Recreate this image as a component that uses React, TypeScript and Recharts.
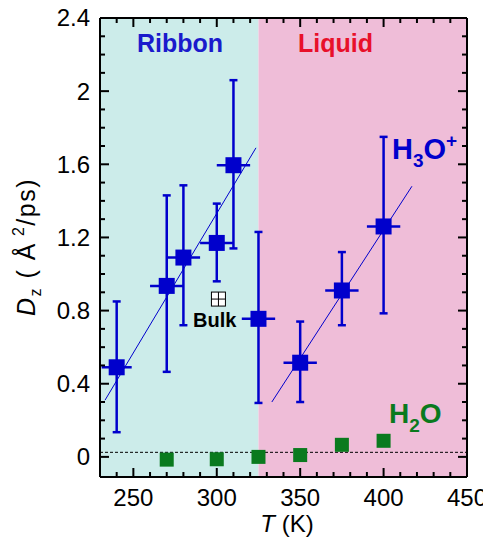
import { ScatterChart, Scatter, XAxis, YAxis, ErrorBar, ReferenceArea, ReferenceLine } from 'recharts'

// H3O+ diffusion (blue squares)
const ionT    = [240, 270, 280, 300, 310, 325, 350, 375, 400]
const ionD    = [0.49, 0.935, 1.09, 1.17, 1.595, 0.755, 0.515, 0.91, 1.26]
const ionLow  = [0.135, 0.465, 0.72, 0.96, 1.14, 0.295, 0.30, 0.72, 0.785]
const ionHigh = [0.85, 1.43, 1.485, 1.385, 2.06, 1.23, 0.74, 1.12, 1.75]
const ionTErr = [9, 10, 10, 10, 10, 10, 10, 10, 10]

// H2O diffusion (green squares)
const waterT = [270, 300, 325, 350, 375, 400]
const waterD = [-0.015, -0.013, 0, 0.01, 0.066, 0.088]

// bulk reference point
const bulkT = [301]
const bulkD = [0.863]

// linear fits
const ribbonFitT = [233, 323.5]
const ribbonFitD = [0.31, 1.69]
const liquidFitT = [333, 417]
const liquidFitD = [0.30, 1.48]

const ribbonRange = [230, 325]
const liquidRange = [325, 450]
const zeroLevel = 0.025

const xTicks  = [240, 250, 260, 270, 280, 290, 300, 310, 320, 330, 340, 350, 360, 370, 380, 390, 400, 410, 420, 430, 440, 450]
const xLabels = [250, 300, 350, 400, 450]
const yTicks  = [0, 0.1, 0.2, 0.3, 0.4, 0.5, 0.6, 0.7, 0.8, 0.9, 1, 1.1, 1.2, 1.3, 1.4, 1.5, 1.6, 1.7, 1.8, 1.9, 2, 2.1, 2.2, 2.3, 2.4]
const yLabels = [0, 0.4, 0.8, 1.2, 1.6, 2, 2.4]

const BLUE  = '#0000cc'
const GREEN = '#0a7a1e'
const RED   = '#e8102a'
const FONT  = '"Liberation Sans", Arial, sans-serif'

const ionData = ionT.map((t, i) => ({
  t, d: ionD[i], ex: ionTErr[i], ey: [ionD[i] - ionLow[i], ionHigh[i] - ionD[i]],
}))
const waterData = waterT.map((t, i) => ({ t, d: waterD[i] }))
const bulkData = bulkT.map((t, i) => ({ t, d: bulkD[i] }))
const ribbonFit = ribbonFitT.map((t, i) => ({ t, d: ribbonFitD[i] }))
const liquidFit = liquidFitT.map((t, i) => ({ t, d: liquidFitD[i] }))

const square = (size: number, color: string) => (p: any) => (
  <rect x={p.cx - size / 2} y={p.cy - size / 2} width={size} height={size} fill={color} />
)

const BulkMark = (p: any) => (
  <g stroke="#000" strokeWidth={1}>
    <rect x={p.cx - 7} y={p.cy - 7} width={14} height={14} fill="#fff" />
    <line x1={p.cx} x2={p.cx} y1={p.cy - 7} y2={p.cy + 7} />
    <line x1={p.cx - 7} x2={p.cx + 7} y1={p.cy} y2={p.cy} />
  </g>
)

const BottomTick = ({ x, y, payload }: any) => {
  const major = xLabels.includes(payload.value)
  return (
    <g>
      <line x1={x} x2={x} y1={y} y2={y - (major ? 9 : 5)} stroke="#000" strokeWidth={2} />
      {major && (
        <text x={x} y={y + 21} dy="0.35em" textAnchor="middle" fontSize={24} fontFamily={FONT} fill="#000">
          {payload.value}
        </text>
      )}
    </g>
  )
}

const TopTick = ({ x, y, payload }: any) => {
  const major = xLabels.includes(payload.value)
  return <line x1={x} x2={x} y1={y} y2={y + (major ? 9 : 5)} stroke="#000" strokeWidth={2} />
}

const LeftTick = ({ x, y, payload }: any) => {
  const major = yLabels.includes(payload.value)
  return (
    <g>
      <line x1={x} x2={x + (major ? 9 : 5)} y1={y} y2={y} stroke="#000" strokeWidth={2} />
      {major && (
        <text x={x - 10} y={y} dy="0.35em" textAnchor="end" fontSize={24} fontFamily={FONT} fill="#000">
          {payload.value}
        </text>
      )}
    </g>
  )
}

const RightTick = ({ x, y, payload }: any) => {
  const major = yLabels.includes(payload.value)
  return <line x1={x} x2={x - (major ? 9 : 5)} y1={y} y2={y} stroke="#000" strokeWidth={2} />
}

const axisLine = { stroke: '#000', strokeWidth: 2 }

export default function App() {
  return (
    <div style={{ position: 'relative', width: 483, height: 532, fontFamily: FONT }}>
      <ScatterChart width={483} height={532} margin={{ top: 6, right: 20, bottom: 23, left: 32 }}>
        <XAxis type="number" dataKey="t" domain={[230, 450]} ticks={xTicks} interval={0}
          tickSize={0} tickMargin={0} tickLine={false} tick={<BottomTick />} axisLine={axisLine}
          height={40} allowDataOverflow />
        <XAxis xAxisId="top" orientation="top" type="number" dataKey="t" domain={[230, 450]} ticks={xTicks} interval={0}
          tickSize={0} tickMargin={0} tickLine={false} tick={<TopTick />} axisLine={axisLine}
          height={4} allowDataOverflow />
        <YAxis type="number" dataKey="d" domain={[-0.11, 2.4]} ticks={yTicks} interval={0}
          tickSize={0} tickMargin={0} tickLine={false} tick={<LeftTick />} axisLine={axisLine}
          width={60} allowDataOverflow />
        <YAxis yAxisId="right" orientation="right" type="number" dataKey="d" domain={[-0.11, 2.4]} ticks={yTicks} interval={0}
          tickSize={0} tickMargin={0} tickLine={false} tick={<RightTick />} axisLine={axisLine}
          width={4} allowDataOverflow />

        <ReferenceArea x1={ribbonRange[0]} x2={ribbonRange[1]} fill="#ccecea" fillOpacity={1} stroke="none" />
        <ReferenceArea x1={liquidRange[0]} x2={liquidRange[1]} fill="#efbdd8" fillOpacity={1} stroke="none" />
        <ReferenceLine y={zeroLevel} stroke="#000" strokeWidth={1} strokeDasharray="3 2" />

        <Scatter data={ribbonFit} line={{ stroke: BLUE, strokeWidth: 1 }} shape={() => <g />} isAnimationActive={false} />
        <Scatter data={liquidFit} line={{ stroke: BLUE, strokeWidth: 1 }} shape={() => <g />} isAnimationActive={false} />

        <Scatter data={ionData} fill={BLUE} shape={square(16, BLUE)} isAnimationActive={false}>
          <ErrorBar dataKey="ey" direction="y" width={4} stroke={BLUE} strokeWidth={2.5} isAnimationActive={false} />
          <ErrorBar dataKey="ex" direction="x" width={0} stroke={BLUE} strokeWidth={2.5} isAnimationActive={false} />
        </Scatter>
        <Scatter data={waterData} fill={GREEN} shape={square(14, GREEN)} isAnimationActive={false} />
        <Scatter data={bulkData} shape={BulkMark} isAnimationActive={false} />
      </ScatterChart>

      <svg width={483} height={532} style={{ position: 'absolute', left: 0, top: 0, pointerEvents: 'none' }}
        fontFamily={FONT}>
        <text x={129} y={44} fontSize={25} fontWeight="bold" fill="#1a1acc">Ribbon</text>
        <text x={290} y={44} fontSize={25} fontWeight="bold" fill={RED}>Liquid</text>
        <text x={384} y={151} fontSize={29} fontWeight="bold" fill={BLUE}>
          H<tspan fontSize={19} dy={8}>3</tspan><tspan dy={-8}>O</tspan><tspan fontSize={19} dy={-12}>+</tspan>
        </text>
        <text x={381} y={415} fontSize={28} fontWeight="bold" fill={GREEN}>
          H<tspan fontSize={19} dy={9}>2</tspan><tspan dy={-9}>O</tspan>
        </text>
        <text x={185} y={319} fontSize={20} fontWeight="bold" fill="#000">Bulk</text>
        <text x={279} y={524} fontSize={24} textAnchor="middle" fill="#000">
          <tspan fontStyle="italic">T</tspan> (K)
        </text>
        <text transform="translate(27, 239) rotate(-90)" fontSize={25} textAnchor="middle" fill="#000" letterSpacing={1.5}>
          <tspan fontStyle="italic">D</tspan><tspan fontSize={16} dy={6}>z</tspan><tspan dy={-6}> ( Å</tspan><tspan fontSize={16} dy={-11}> 2</tspan><tspan dy={11}>/ps)</tspan>
        </text>
      </svg>
    </div>
  )
}
